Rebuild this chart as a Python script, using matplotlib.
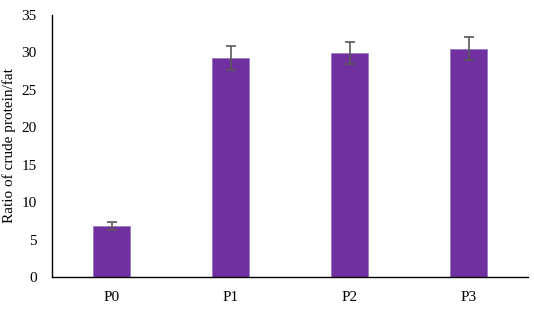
import matplotlib
matplotlib.use("Agg")
import matplotlib.pyplot as plt

categories = ["P0", "P1", "P2", "P3"]
values = [6.8, 29.2, 29.9, 30.5]
errors = [0.5, 1.6, 1.5, 1.5]
yticks = [0, 5, 10, 15, 20, 25, 30, 35]

plt.rcParams['font.family'] = ['Liberation Serif', 'DejaVu Serif']
fig = plt.figure(figsize=(5.34, 3.12), dpi=100)
ax = fig.add_axes([52/534, 1-277/312, 476/534, 262/312])
x = range(len(categories))
ax.bar(x, values, width=0.31, color="#7030A0", edgecolor="#9B7BC0", linewidth=0.6,
       yerr=errors, error_kw=dict(ecolor="#595959", elinewidth=1.2, capsize=3.5, capthick=1.2))
ax.set_xlim(-0.5, 3.5)
ax.set_ylim(0, 35)
ax.set_yticks(yticks)
ax.set_xticks(list(x))
ax.set_xticklabels(categories)
ax.tick_params(axis='both', length=0, labelsize=11, colors="black")
ax.tick_params(axis='y', pad=11)
ax.tick_params(axis='x', pad=10)
for s in ["top", "right"]:
    ax.spines[s].set_visible(False)
ax.spines["left"].set_linewidth(1.0)
ax.spines["bottom"].set_linewidth(1.0)
ax.set_ylabel("Ratio of crude protein/fat", fontsize=11, labelpad=4)
fig.savefig("out.png", dpi=100)
